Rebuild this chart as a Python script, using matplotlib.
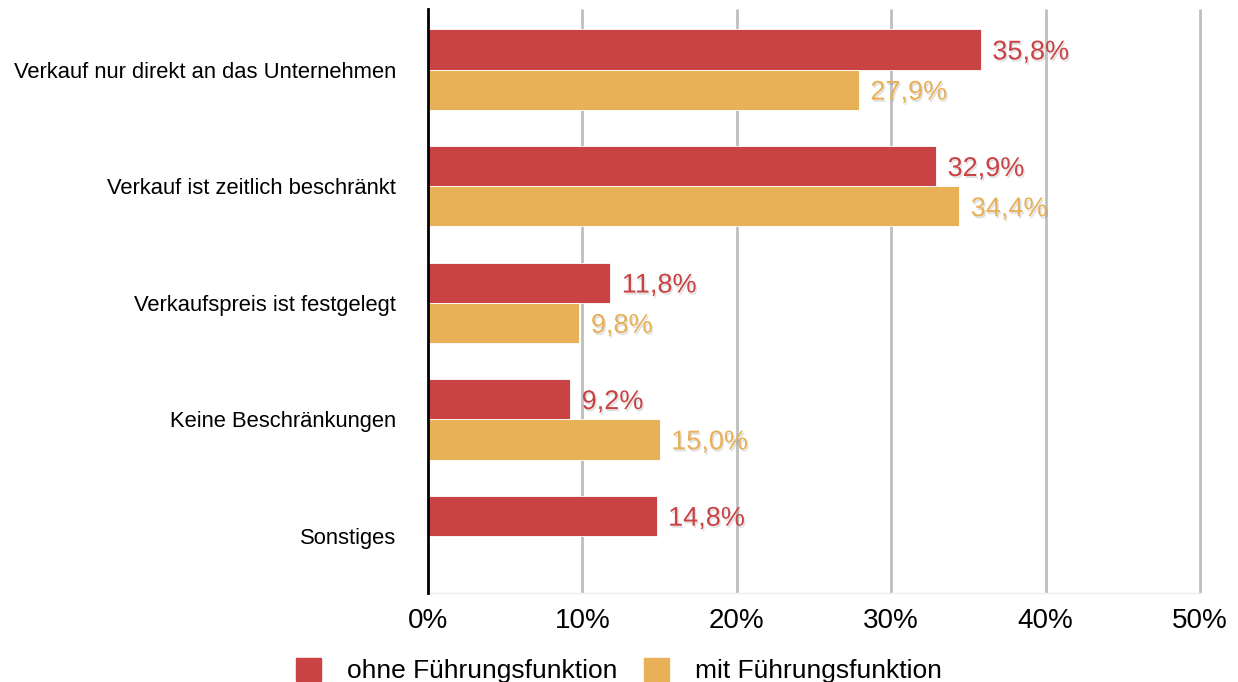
import numpy as np
import matplotlib
matplotlib.use("Agg")
import matplotlib.pyplot as plt
import matplotlib.patheffects as pe
from matplotlib.patches import Patch

plt.rcParams['font.family'] = ['Liberation Sans', 'DejaVu Sans']

categories = ['Verkauf nur direkt an das Unternehmen', 'Verkauf ist zeitlich beschränkt',
              'Verkaufspreis ist festgelegt', 'Keine Beschränkungen', 'Sonstiges']
ohne = [35.8, 32.9, 11.8, 9.2, 14.8]
mit = [27.9, 34.4, 9.8, 15.0, None]
series_names = ['ohne Führungsfunktion', 'mit Führungsfunktion']
xticks = [0, 10, 20, 30, 40, 50]

red = '#C94244'
orange = '#E8B057'

fig = plt.figure(figsize=(12.38, 6.82), dpi=100)
ax = fig.add_axes([428 / 1238, 1 - 593 / 682, 772 / 1238, 584 / 682])

y = np.arange(len(categories))
h = 0.345
shadow = [pe.withSimplePatchShadow(offset=(1, -1.5), shadow_rgbFace='black', alpha=0.12)]

for v, color, off in [(ohne, red, -h / 2), (mit, orange, h / 2)]:
    for k, val in enumerate(v):
        if val is None:
            continue
        ax.barh(y[k] + off, val, height=h, color=color, edgecolor='white', linewidth=0.6, zorder=3)
        ax.text(val + 0.75, y[k] + off + 0.025, f'{val:.1f}%'.replace('.', ','), color=color,
                fontsize=19.5, va='center', ha='left', zorder=4, path_effects=shadow)

ax.set_xlim(0, 50)
ax.set_ylim(4.49, -0.52)
ax.set_xticks(xticks)
ax.set_xticklabels([f'{t}%' for t in xticks], fontsize=20)
ax.set_yticks(y)
ax.set_yticklabels(categories, fontsize=15.8)
ax.tick_params(axis='x', length=0, pad=11)
ax.tick_params(axis='y', length=0, pad=23)

# vertical gridlines, drawn unclipped so the 50% line keeps its full width
ax.vlines(xticks[1:], 4.49, -0.52, color='#BEBEBE', linewidth=2, zorder=0, clip_on=False)

for s in ['top', 'right']:
    ax.spines[s].set_visible(False)
ax.spines['bottom'].set_color('#EEEEEE')
ax.spines['bottom'].set_linewidth(1)
ax.spines['left'].set_color('black')
ax.spines['left'].set_linewidth(2)
ax.spines['left'].set_zorder(5)

handles = [Patch(color=red), Patch(color=orange)]
fig.legend(handles, series_names, loc='lower center', bbox_to_anchor=(0.5, -0.037), ncol=2,
           frameon=False, fontsize=19, handlelength=0.95, handleheight=0.95,
           handletextpad=1.0, columnspacing=1.0)

fig.savefig('out.png', dpi=100)
